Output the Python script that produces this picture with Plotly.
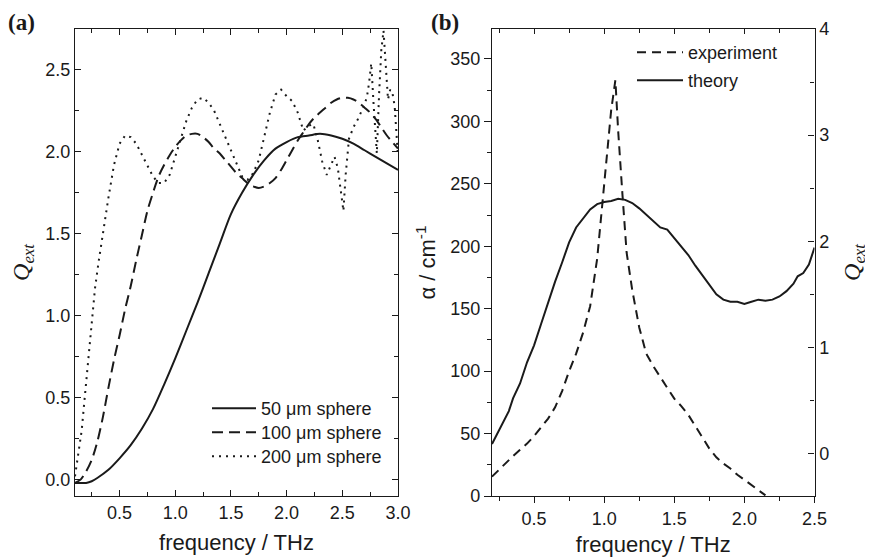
import plotly.graph_objects as go

# ---------------- Panel (a) data ----------------
f_50 = [0.10, 0.15, 0.20, 0.25, 0.30, 0.40, 0.50, 0.60, 0.70, 0.80, 0.90, 1.00, 1.10, 1.20,
        1.30, 1.40, 1.50, 1.60, 1.70, 1.80, 1.90, 2.00, 2.10, 2.20, 2.30, 2.40, 2.50, 2.60,
        2.70, 2.80, 2.90, 3.00]
q_50 = [-0.02, -0.02, -0.02, -0.01, 0.01, 0.06, 0.13, 0.21, 0.31, 0.43, 0.58, 0.74, 0.91, 1.08,
        1.26, 1.44, 1.62, 1.75, 1.86, 1.95, 2.02, 2.06, 2.09, 2.10, 2.11, 2.10, 2.08, 2.05,
        2.01, 1.97, 1.93, 1.89]

f_100 = [0.10, 0.15, 0.20, 0.25, 0.30, 0.35, 0.40, 0.45, 0.50, 0.55, 0.60, 0.65, 0.70, 0.75,
         0.80, 0.85, 0.90, 0.95, 1.00, 1.05, 1.10, 1.15, 1.20, 1.25, 1.30, 1.35, 1.40, 1.45,
         1.50, 1.55, 1.60, 1.65, 1.70, 1.75, 1.80, 1.85, 1.90, 1.95, 2.00, 2.05, 2.10, 2.15,
         2.20, 2.25, 2.30, 2.35, 2.40, 2.45, 2.50, 2.55, 2.60, 2.65, 2.70, 2.75, 2.80, 2.85,
         2.90, 2.95, 3.00]
q_100 = [-0.02, 0.00, 0.05, 0.12, 0.23, 0.38, 0.56, 0.73, 0.88, 1.04, 1.18, 1.34, 1.49, 1.64,
         1.75, 1.85, 1.92, 1.98, 2.03, 2.07, 2.10, 2.11, 2.11, 2.09, 2.06, 2.02, 1.99, 1.95,
         1.91, 1.87, 1.84, 1.81, 1.79, 1.78, 1.79, 1.81, 1.84, 1.89, 1.95, 2.01, 2.07, 2.12,
         2.17, 2.21, 2.24, 2.27, 2.30, 2.32, 2.33, 2.33, 2.32, 2.30, 2.27, 2.24, 2.20, 2.15,
         2.10, 2.06, 2.02]

f_200 = [0.10, 0.13, 0.16, 0.19, 0.22, 0.25, 0.28, 0.31, 0.35, 0.40, 0.45, 0.50, 0.55, 0.60,
         0.65, 0.70, 0.75, 0.80, 0.85, 0.90, 0.95, 1.00, 1.05, 1.10, 1.15, 1.20, 1.25, 1.30,
         1.35, 1.40, 1.45, 1.50, 1.55, 1.60, 1.65, 1.70, 1.75, 1.80, 1.85, 1.90, 1.95, 2.00,
         2.05, 2.10, 2.15, 2.20, 2.24, 2.28, 2.32, 2.36, 2.40, 2.43, 2.46, 2.49, 2.51, 2.53,
         2.56, 2.60, 2.64, 2.68, 2.72, 2.74, 2.76, 2.78, 2.80, 2.81, 2.83, 2.85, 2.87, 2.89,
         2.91, 2.93, 2.95, 2.97, 2.99, 3.00]
q_200 = [0.02, 0.15, 0.30, 0.52, 0.74, 0.98, 1.17, 1.32, 1.50, 1.72, 1.92, 2.05, 2.10, 2.09,
         2.05, 1.98, 1.91, 1.85, 1.81, 1.81, 1.86, 1.97, 2.08, 2.19, 2.27, 2.32, 2.33, 2.30,
         2.25, 2.17, 2.09, 2.00, 1.92, 1.85, 1.83, 1.87, 1.95, 2.10, 2.24, 2.35, 2.38, 2.34,
         2.31, 2.24, 2.13, 2.16, 2.17, 2.07, 1.94, 1.86, 1.93, 1.97, 1.90, 1.76, 1.64, 1.86,
         2.08, 2.15, 2.20, 2.26, 2.33, 2.42, 2.54, 2.30, 2.05, 1.99, 2.35, 2.62, 2.74, 2.55,
         2.32, 2.38, 2.36, 2.28, 2.10, 1.97]

# ---------------- Panel (b) data ----------------
f_exp = [0.20, 0.25, 0.30, 0.35, 0.40, 0.45, 0.50, 0.55, 0.60, 0.65, 0.70, 0.75, 0.80, 0.85,
         0.90, 0.95, 0.98, 1.00, 1.02, 1.05, 1.08, 1.10, 1.13, 1.16, 1.18, 1.20, 1.25, 1.30,
         1.35, 1.40, 1.45, 1.50, 1.55, 1.60, 1.65, 1.70, 1.75, 1.80, 1.85, 1.90, 1.95, 2.00,
         2.05, 2.10, 2.15]
alpha_exp = [15.5, 21, 27, 32, 37, 42, 48, 55, 62, 71, 84, 100, 114, 131,
             152, 190, 225, 245, 268, 309, 333, 292, 242, 195, 180, 165, 135, 114,
             104, 95, 86, 78, 72, 65, 56, 47, 38, 31, 26, 22, 17, 13,
             9, 5, 0.5]

f_th = [0.20, 0.25, 0.28, 0.32, 0.35, 0.40, 0.45, 0.50, 0.55, 0.60, 0.65, 0.70, 0.75, 0.80,
        0.85, 0.90, 0.95, 1.00, 1.05, 1.10, 1.15, 1.20, 1.25, 1.30, 1.35, 1.40, 1.45, 1.50,
        1.55, 1.60, 1.65, 1.70, 1.75, 1.80, 1.85, 1.90, 1.95, 2.00, 2.05, 2.10, 2.15, 2.20,
        2.25, 2.30, 2.35, 2.38, 2.42, 2.46, 2.48, 2.50]
q_th = [0.09, 0.22, 0.30, 0.40, 0.52, 0.66, 0.86, 1.02, 1.22, 1.43, 1.62, 1.80, 1.99, 2.13,
        2.22, 2.30, 2.35, 2.37, 2.38, 2.40, 2.39, 2.36, 2.31, 2.25, 2.19, 2.13, 2.11, 2.03,
        1.96, 1.87, 1.77, 1.68, 1.58, 1.50, 1.45, 1.43, 1.43, 1.41, 1.43, 1.45, 1.44, 1.45,
        1.48, 1.53, 1.60, 1.67, 1.70, 1.78, 1.86, 1.94]

# tick labels
xa_ticks = [0.5, 1.0, 1.5, 2.0, 2.5, 3.0]
ya_ticks = [0.0, 0.5, 1.0, 1.5, 2.0, 2.5]
xb_ticks = [0.5, 1.0, 1.5, 2.0, 2.5]
yb_ticks = [0, 50, 100, 150, 200, 250, 300, 350]
yb2_ticks = [0, 1, 2, 3, 4]

SANS = "Arial, 'Liberation Sans', Helvetica, sans-serif"
SERIF = "'Liberation Serif', 'Times New Roman', 'DejaVu Serif', serif"
INK = "#1a1a1a"

# page body has an 8px margin: figure drawn at (8, 8) inside the 873x559 window
OFF = 8
W, H = 873 - OFF, 559 - OFF


def X(px):
    return (px - OFF) / W


def Y(py):
    return 1 - (py - OFF) / H


fig = go.Figure()

fig.add_trace(go.Scatter(x=f_50, y=q_50, mode="lines", name="50 \u03bcm sphere",
                         line=dict(color=INK, width=2, shape="spline", smoothing=0.8),
                         xaxis="x", yaxis="y", legend="legend"))
fig.add_trace(go.Scatter(x=f_100, y=q_100, mode="lines", name="100 \u03bcm sphere",
                         line=dict(color=INK, width=2, dash="11px,6px", shape="spline", smoothing=0.8),
                         xaxis="x", yaxis="y", legend="legend2"))
fig.add_trace(go.Scatter(x=f_200, y=q_200, mode="lines", name="200 \u03bcm sphere",
                         line=dict(color=INK, width=2, dash="2px,5px"),
                         xaxis="x", yaxis="y", legend="legend3"))

fig.add_trace(go.Scatter(x=f_exp, y=alpha_exp, mode="lines", name="experiment",
                         line=dict(color=INK, width=2, dash="9px,6px"),
                         xaxis="x2", yaxis="y2", legend="legend4"))
fig.add_trace(go.Scatter(x=f_th, y=q_th, mode="lines", name="theory",
                         line=dict(color=INK, width=2),
                         xaxis="x2", yaxis="y3", legend="legend5"))
# empty trace to carry the top axis of panel (b)
fig.add_trace(go.Scatter(x=[], y=[], xaxis="x3", yaxis="y2", showlegend=False, hoverinfo="skip"))

dom_a = [X(75), X(398)]
dom_b = [X(492), X(814.5)]
dom_y = [Y(496), Y(29)]

tickfont = dict(family=SANS, size=18, color=INK)
axtitle = dict(family=SANS, size=22, color=INK)
legfont = dict(family=SANS, size=18, color=INK)

common = dict(showline=True, linecolor=INK, linewidth=1.3, showgrid=False, zeroline=False,
              tickcolor=INK, tickwidth=1.2, tickfont=tickfont, automargin=False)


def leg(x_px, top_px, width):
    return dict(x=X(x_px), y=Y(top_px), xanchor="left", yanchor="top",
                bgcolor="rgba(0,0,0,0)", itemwidth=width, font=legfont)


fig.update_layout(
    template="none",
    showlegend=True,
    width=W, height=H,
    margin=dict(l=0, r=0, t=0, b=0, autoexpand=False),
    paper_bgcolor="white", plot_bgcolor="white",
    xaxis=dict(domain=dom_a, anchor="y", range=[0.1, 3.0], tickvals=xa_ticks,
               ticktext=[f"{v:.1f}" for v in xa_ticks], ticks="inside", ticklen=6, mirror="ticks",
               minor=dict(tickvals=[0.25, 0.75, 1.25, 1.75, 2.25, 2.75], ticks="inside", ticklen=4,
                          tickcolor=INK),
               title=dict(text="frequency / THz", font=axtitle, standoff=12), **common),
    yaxis=dict(domain=dom_y, anchor="x", range=[-0.1, 2.75], tickvals=ya_ticks,
               ticktext=[f"{v:.1f}" for v in ya_ticks], ticks="inside", ticklen=6, mirror="ticks",
               minor=dict(dtick=0.25, tick0=0, ticks="inside", ticklen=4, tickcolor=INK),
               title=dict(text="<i>Q</i><sub><i>ext</i></sub>",
                          font=dict(family=SERIF, size=24, color=INK), standoff=24), **common),
    xaxis2=dict(domain=dom_b, anchor="y2", range=[0.2, 2.5], tickvals=xb_ticks,
                ticktext=[f"{v:.1f}" for v in xb_ticks], ticks="outside", ticklen=6,
                minor=dict(tickvals=[0.25, 0.75, 1.25, 1.75, 2.25], ticks="outside", ticklen=4,
                           tickcolor=INK),
                title=dict(text="frequency / THz", font=axtitle, standoff=8), **common),
    xaxis3=dict(overlaying="x2", anchor="y2", side="top", range=[0.2, 2.5], tickvals=xb_ticks,
                ticks="inside", ticklen=5, showticklabels=False,
                minor=dict(tickvals=[0.25, 0.75, 1.25, 1.75, 2.25], ticks="inside", ticklen=4,
                           tickcolor=INK),
                **common),
    yaxis2=dict(domain=dom_y, anchor="x2", range=[0, 374], tickvals=yb_ticks,
                ticks="outside", ticklen=7,
                minor=dict(dtick=25, tick0=0, ticks="outside", ticklen=4, tickcolor=INK),
                title=dict(text="\u03b1 / cm<sup>-1</sup>", font=axtitle, standoff=8), **common),
    yaxis3=dict(overlaying="y2", anchor="x2", side="right", range=[-0.4, 4], tickvals=yb2_ticks,
                ticks="inside", ticklen=6,
                minor=dict(dtick=0.5, tick0=0, ticks="inside", ticklen=4, tickcolor=INK),
                title=dict(text="<i>Q</i><sub><i>ext</i></sub>",
                           font=dict(family=SERIF, size=24, color=INK), standoff=14), **common),
    legend=leg(207, 390, 44),
    legend2=leg(207, 414, 44),
    legend3=leg(207, 438, 44),
    legend4=leg(632, 34, 46),
    legend5=leg(632, 62, 46),
    annotations=[
        dict(text="<b>(a)</b>", x=X(6), y=1, xref="paper", yref="paper",
             xanchor="left", yanchor="top", showarrow=False,
             font=dict(family=SERIF, size=23, color=INK)),
        dict(text="<b>(b)</b>", x=X(429), y=1, xref="paper", yref="paper",
             xanchor="left", yanchor="top", showarrow=False,
             font=dict(family=SERIF, size=23, color=INK)),
    ],
)

fig.write_html("out.html")
